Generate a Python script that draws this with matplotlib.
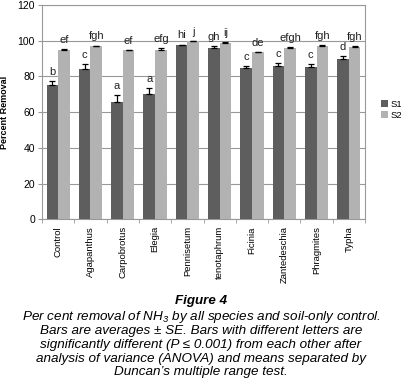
import matplotlib
matplotlib.use("Agg")
import matplotlib.pyplot as plt
import numpy as np

categories = ["Control", "Agapanthus", "Carpobrotus", "Elegia", "Pennisetum",
              "tenotaphrum", "Ficinia", "Zantedeschia", "Phragmites", "Typha"]
s1 = [75, 84.3, 65.7, 70.4, 97.6, 96.1, 84.6, 86.0, 85.1, 89.6]
s1_se = [2.5, 2.5, 4.0, 3.0, 0.3, 1.0, 1.3, 1.6, 1.9, 1.9]
s2 = [95.1, 97.0, 94.6, 95.0, 99.7, 98.8, 93.6, 96.1, 97.1, 96.7]
s2_se = [0.4, 0.3, 0.3, 0.8, 0.2, 0.3, 0.3, 0.2, 0.3, 0.2]
s1_letters = ["b", "c", "a", "a", "hi", "gh", "c", "c", "c", "d"]
s2_letters = ["ef", "fgh", "ef", "efg", "j", "ij", "de", "efgh", "fgh", "fgh"]

plt.rcParams["mathtext.fontset"] = "custom"
plt.rcParams["mathtext.it"] = "Liberation Sans:italic"
plt.rcParams["mathtext.rm"] = "Liberation Sans:italic"

fig = plt.figure(figsize=(4.02, 3.88), dpi=100)
ax = fig.add_axes([0.1045, 0.4348, 0.8035, 0.5521])

x = np.arange(len(categories))
w = 0.36
dark = "#5e5e5e"
light = "#b2b2b2"
b1 = ax.bar(x - w/2, s1, w, color=dark, label="S1", zorder=3)
b2 = ax.bar(x + w/2, s2, w, color=light, label="S2", zorder=3)
ax.errorbar(x - w/2, s1, yerr=[np.zeros(len(s1)), s1_se], fmt="none",
            ecolor="black", elinewidth=0.9, capsize=2.5, capthick=0.9, zorder=4)
ax.errorbar(x + w/2, s2, yerr=[np.zeros(len(s2)), s2_se], fmt="none",
            ecolor="black", elinewidth=0.9, capsize=2.5, capthick=0.9, zorder=4)

for i in range(len(categories)):
    ax.text(x[i] - w/2, s1[i] + s1_se[i] + 2.3, s1_letters[i], ha="center",
            va="bottom", fontsize=8, family="Liberation Sans", color="#222222")
    ax.text(x[i] + w/2, s2[i] + s2_se[i] + 2.3, s2_letters[i], ha="center",
            va="bottom", fontsize=8, family="Liberation Sans", color="#222222")

ax.set_xlim(-0.5, len(categories) - 0.5)
ax.set_ylim(0, 120)
ax.set_yticks(np.arange(0, 121, 20))
ax.yaxis.grid(True, color="#999999", linewidth=0.8, zorder=0)
ax.set_axisbelow(True)
for s in ax.spines.values():
    s.set_color("#999999")
    s.set_linewidth(0.8)
ax.set_xticks(x)
ax.set_xticklabels(categories, rotation=90, fontsize=6.8, family="Liberation Sans")
ax.set_xticks(np.arange(-0.5, len(categories), 1), minor=True)
ax.tick_params(axis="x", which="major", length=0, pad=5)
ax.tick_params(axis="x", which="minor", length=3, color="#999999")
ax.tick_params(axis="y", length=3, color="#999999", labelsize=7.5, pad=2)
for lab in ax.get_yticklabels():
    lab.set_family("Liberation Sans")
ax.set_ylabel("Percent Removal", fontsize=6.5, fontweight="bold",
              family="Liberation Sans", labelpad=6)

fig.legend(handles=[b1, b2], labels=["S1", "S2"], loc="center left",
           bbox_to_anchor=(0.948, 0.717), frameon=False,
           handlelength=0.7, handleheight=0.7, handletextpad=0.3,
           labelspacing=0.25, borderaxespad=0, borderpad=0,
           prop={"family": "Liberation Sans", "size": 6.8})

fig.text(0.5, 1 - 301/388, "Figure 4", ha="center", va="center",
         fontsize=9.6, fontweight="bold", style="italic", family="Liberation Sans")
caption = [
    r"Per cent removal of NH$_3$ by all species and soil-only control.",
    "Bars are averages \u00b1 SE. Bars with different letters are",
    "significantly different (P \u2264 0.001) from each other after",
    "analysis of variance (ANOVA) and means separated by",
    "Duncan\u2019s multiple range test.",
]
ys = [317, 331, 345, 359, 372.5]
for t, yy in zip(caption, ys):
    fig.text(0.5, 1 - yy/388, t, ha="center", va="center", fontsize=9.7,
             style="italic", family="Liberation Sans")

fig.savefig("out.png", dpi=100)
